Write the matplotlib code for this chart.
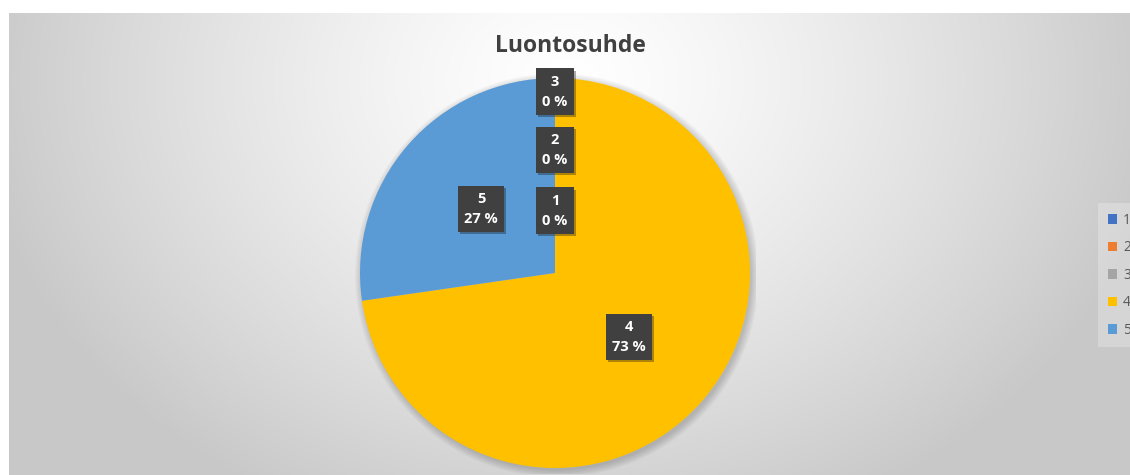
import numpy as np
import matplotlib.pyplot as plt
from matplotlib import patheffects
from matplotlib.patches import Circle

# data
categories = ["1", "2", "3", "4", "5"]
counts = [0, 0, 0, 8, 3]
colors = ["#4472C4", "#ED7D31", "#A5A5A5", "#FFC000", "#5B9BD5"]
title = "Luontosuhde"

plt.rcParams["font.family"] = ["Open Sans", "DejaVu Sans"]

W, H = 1130, 475
fig = plt.figure(figsize=(W / 100, H / 100), dpi=100)

# radial grey background of the chart area
bg = fig.add_axes([9 / W, 0, (W - 9) / W, (H - 13) / H])
X, Y = np.meshgrid(np.arange(9, W) + 0.5, np.arange(13, H) + 0.5)
d = np.sqrt(((X - 570) / 600) ** 2 + ((Y - 80) / 480) ** 2)
v = (255 - 55 * np.clip(d, 0, 1) ** 1.3) / 255
bg.imshow(np.dstack([v, v, v]), aspect="auto", interpolation="bilinear")
bg.axis("off")

# pie
cx, cy, r = 555, H - 273, 195
m = 1.03
ax = fig.add_axes([(cx - r * m) / W, (cy - r * m) / H, 2 * r * m / W, 2 * r * m / H])
wedges, _ = ax.pie(counts, colors=colors, startangle=90, counterclock=False,
                   radius=1, wedgeprops=dict(linewidth=0))
for k in range(6):
    ax.add_patch(Circle((0.01, -0.012), 1 + 0.007 * k, color="black",
                        alpha=0.03, lw=0, zorder=0.5))
ax.set_xlim(-m, m)
ax.set_ylim(-m, m)
ax.axis("off")

# data labels
total = sum(counts)
label_r = [0.32, 0.63, 0.93, 0.5, 0.5]
for w, cat, n, rr in zip(wedges, categories, counts, label_r):
    ang = np.deg2rad((w.theta1 + w.theta2) / 2)
    pct = round(100 * n / total)
    t = ax.text(rr * np.cos(ang), rr * np.sin(ang), f"{cat}\n{pct} %",
                ha="center", va="center", color="white", fontsize=10.5,
                fontweight="bold", linespacing=1.55, zorder=5,
                bbox=dict(boxstyle="square,pad=0.42", fc="#404040", ec="none"))
    t.get_bbox_patch().set_path_effects([
        patheffects.SimplePatchShadow(offset=(1.5, -1.5), alpha=0.35),
        patheffects.Normal()])

fig.text(570 / W, 1 - 52 / H, title, ha="center", va="baseline",
         fontsize=16.5, fontweight="bold", color="#404040")

fig.legend(wedges, categories, loc="upper left",
           bbox_to_anchor=(1098 / W, 1 - 203 / H), fontsize=10,
           labelcolor="#595959", handlelength=0.7, handleheight=0.7,
           handletextpad=0.4, labelspacing=0.9, borderpad=0.7,
           borderaxespad=0, fancybox=False, edgecolor="none",
           facecolor="white", framealpha=0.25)

fig.savefig("out.png", dpi=100)
